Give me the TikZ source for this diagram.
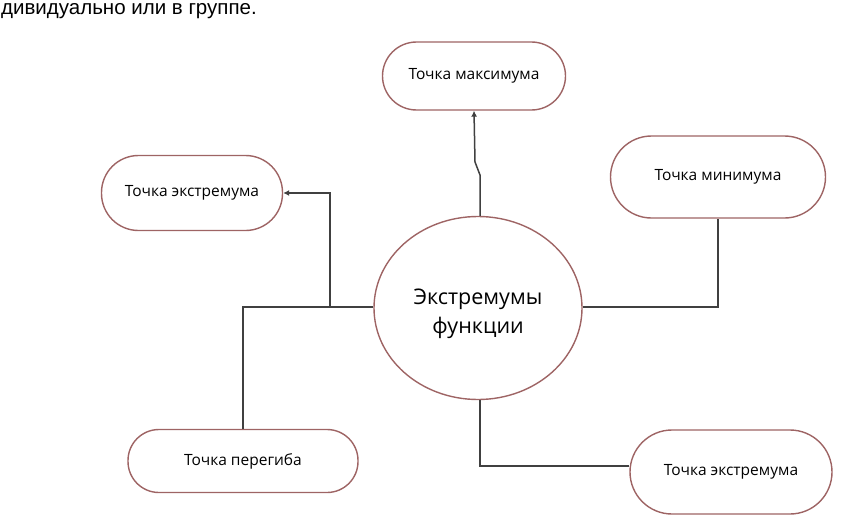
\documentclass[tikz,border=0pt]{standalone}
\usepackage{fontspec}
\setmainfont{Open Sans}
\newfontfamily\arialfont{Liberation Sans}
\usetikzlibrary{arrows.meta,shapes.geometric}
\definecolor{boxline}{HTML}{9E6464}
\definecolor{conn}{HTML}{404040}
\tikzset{
  pill/.style={draw=boxline, line width=1.4pt, fill=white, inner sep=0pt, font=\fontsize{15.5}{18}\selectfont},
  link/.style={draw=conn, line width=1.5pt},
  tip/.style={-{Latex[length=6pt,width=6pt]}}
}
\begin{document}
\begin{tikzpicture}[x=1pt,y=-1pt]
\useasboundingbox (0,0) rectangle (853,519);
\node[anchor=base west, inner sep=0pt, font=\arialfont\fontsize{20.5}{22}\selectfont] (hdr) at (1,15) {дивидуально или в группе.};
\node[draw=boxline, line width=1.4pt, ellipse, minimum width=208pt, minimum height=183pt, inner sep=0pt] (c) at (478,308) {};
\node[align=center, inner sep=0pt, font=\fontsize{21.5}{29}\selectfont] (ct) at (478,314) {Экстремумы\\функции};
\node[pill, minimum width=183pt, minimum height=68pt, rounded corners=34pt] (max) at (474,76) {Точка максимума};
\node[pill, minimum width=181pt, minimum height=75pt, rounded corners=37pt] (ext1) at (192,193) {Точка экстремума};
\node[pill, minimum width=215pt, minimum height=82pt, rounded corners=41pt] (min) at (718,177) {Точка минимума};
\node[pill, minimum width=230pt, minimum height=63pt, rounded corners=31pt] (per) at (243,461) {Точка перегиба};
\node[pill, minimum width=202pt, minimum height=84pt, rounded corners=42pt] (ext2) at (731,472) {Точка экстремума};
\coordinate (j1) at (330,307);
\coordinate (j2) at (480,175);
\coordinate (j3) at (475,162);
% top
\draw[link, tip] (c.north -| j2) -- (j2) -- (j3) -- (max.south);
% left
\draw[link] (c.west |- j1) -- (per.north |- j1) -- (per.north);
\draw[link, tip] (j1) -- (j1 |- ext1.east) -- (ext1.east);
% right
\draw[link] (c.east |- j1) -- (min.south |- j1) -- (min.south);
% bottom
\draw[link] (c.south -| j2) -- (j2 |- 0,466) -- (ext2.west |- 0,466);
\end{tikzpicture}
\end{document}
